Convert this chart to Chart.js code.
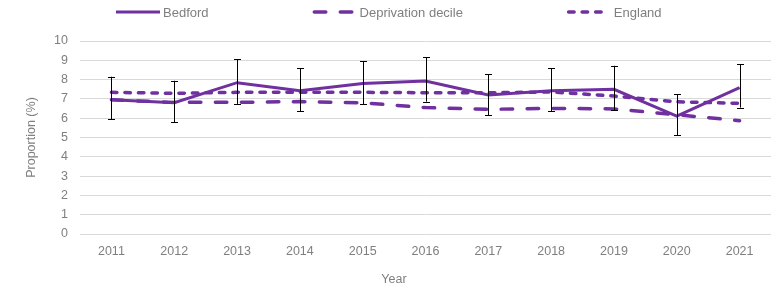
<!DOCTYPE html>
<html>
<head>
<meta charset="utf-8">
<title>Proportion (%) by year</title>
<script src="https://cdn.jsdelivr.net/npm/chart.js@4/dist/chart.umd.min.js"></script>
<style>
	html, body { margin: 0; padding: 0; background: #fff; }
	#wrap { width: 778px; height: 288px; position: relative; }
</style>
</head>
<body>
<div id="wrap"><canvas id="lineChart"></canvas></div>
<script>
var years = ['2011', '2012', '2013', '2014', '2015', '2016', '2017', '2018', '2019', '2020', '2021'];
var bedford = [6.95, 6.8, 7.84, 7.42, 7.8, 7.93, 7.2, 7.42, 7.5, 6.11, 7.58];
var bedfordLower = [5.94, 5.8, 6.74, 6.37, 6.72, 6.86, 6.15, 6.37, 6.42, 5.13, 6.55];
var bedfordUpper = [8.15, 7.94, 9.05, 8.58, 8.96, 9.15, 8.29, 8.58, 8.72, 7.24, 8.79];
var deprivation = [6.95, 6.82, 6.82, 6.86, 6.8, 6.55, 6.46, 6.51, 6.48, 6.18, 5.87];
var england = [7.34, 7.29, 7.34, 7.34, 7.34, 7.32, 7.32, 7.36, 7.15, 6.85, 6.77];
var yTicks = [0, 1, 2, 3, 4, 5, 6, 7, 8, 9, 10];

var purple = '#7030a0';
var textColor = '#7f7f7f';
var fontFamily = '"Liberation Sans", Arial, sans-serif';

// error bars for Bedford, drawn from the chart's own scales
var errorBars = {
	id: 'errorBars',
	afterDatasetDraw: function(chart, args) {
		if (args.index !== 0) return;
		var ctx = chart.ctx, x = chart.scales.x, y = chart.scales.y;
		ctx.save();
		ctx.strokeStyle = '#000';
		ctx.lineWidth = 1;
		for (var i = 0; i < years.length; i++) {
			var px = Math.round(x.getPixelForValue(i)) + 0.5;
			var top = y.getPixelForValue(bedfordUpper[i]);
			var bot = y.getPixelForValue(bedfordLower[i]);
			ctx.beginPath();
			ctx.moveTo(px, top); ctx.lineTo(px, bot);
			ctx.moveTo(px - 3.5, Math.round(top) + 0.5); ctx.lineTo(px + 3.5, Math.round(top) + 0.5);
			ctx.moveTo(px - 3.5, Math.round(bot) + 0.5); ctx.lineTo(px + 3.5, Math.round(bot) + 0.5);
			ctx.stroke();
		}
		ctx.restore();
	}
};

// legend across the top, plus the x axis title
var topLegend = {
	id: 'topLegend',
	afterDraw: function(chart) {
		var ctx = chart.ctx;
		var x0 = 116, yMid = 12, sample = 44;
		ctx.save();
		ctx.font = '13px ' + fontFamily;
		ctx.textBaseline = 'middle';
		ctx.fillStyle = textColor;
		chart.data.datasets.forEach(function(ds) {
			ctx.save();
			ctx.strokeStyle = ds.borderColor;
			ctx.lineWidth = ds.borderWidth;
			ctx.lineCap = ds.borderCapStyle || 'butt';
			ctx.setLineDash(ds.borderDash || []);
			var cap = ds.borderCapStyle === 'round' ? ds.borderWidth / 2 : 0;
			ctx.beginPath();
			ctx.moveTo(x0 + cap, yMid);
			ctx.lineTo(x0 + sample - cap, yMid);
			ctx.stroke();
			ctx.restore();
			ctx.fillText(ds.label, x0 + sample + 3, yMid + 1);
			x0 = x0 + sample + 3 + ctx.measureText(ds.label).width + 104;
		});
		ctx.font = '12.5px ' + fontFamily;
		ctx.textAlign = 'center';
		ctx.fillText('Year', 394, 280);
		ctx.restore();
	}
};

var handleRenderChart = function() {
	Chart.defaults.font.family = fontFamily;
	Chart.defaults.font.size = 12.5;
	Chart.defaults.color = textColor;

	var ctx = document.getElementById('lineChart');
	new Chart(ctx, {
		type: 'line',
		data: {
			labels: years,
			datasets: [{
				label: 'Bedford',
				data: bedford,
				borderColor: purple,
				borderWidth: 3,
				borderCapStyle: 'butt',
				pointRadius: 0
			}, {
				label: 'Deprivation decile',
				data: deprivation,
				borderColor: purple,
				borderWidth: 3.5,
				borderDash: [11.5, 14.5],
				borderCapStyle: 'round',
				pointRadius: 0
			}, {
				label: 'England',
				data: england,
				borderColor: purple,
				borderWidth: 3.5,
				borderDash: [5.5, 8],
				borderCapStyle: 'round',
				pointRadius: 0
			}]
		},
		options: {
			responsive: true,
			maintainAspectRatio: false,
			animation: false,
			layout: { padding: { left: 0, right: 7, top: 41, bottom: 0 } },
			plugins: {
				legend: { display: false },
				tooltip: { enabled: false }
			},
			scales: {
				x: {
					offset: true,
					grid: { display: false, drawTicks: false },
					border: { display: false },
					ticks: { padding: 10, color: textColor, maxRotation: 0 },
					afterFit: function(s) { s.height = 54; }
				},
				y: {
					min: 0,
					max: 10,
					afterBuildTicks: function(s) { s.ticks = yTicks.map(function(v) { return { value: v }; }); },
					grid: { color: '#d9d9d9', lineWidth: 1, drawTicks: false },
					border: { display: false },
					ticks: { padding: 12, color: textColor },
					title: {
						display: true,
						text: 'Proportion (%)',
						color: textColor,
						padding: { top: 24, bottom: 0 }
					},
					afterFit: function(s) { s.width = 80; }
				}
			}
		},
		plugins: [errorBars, topLegend]
	});
};

handleRenderChart();
</script>
</body>
</html>
